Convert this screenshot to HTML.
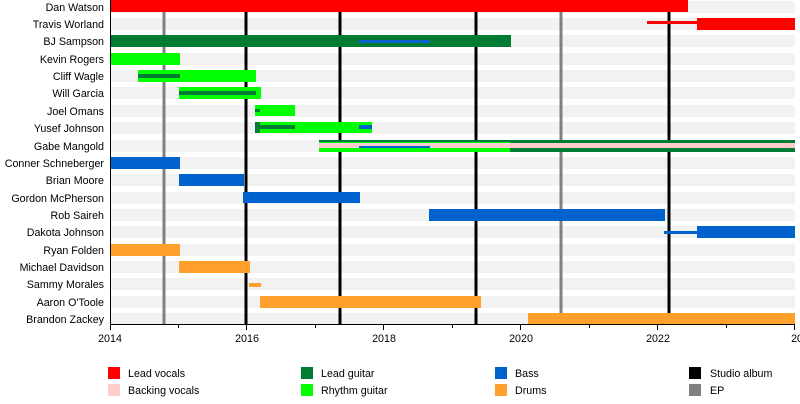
<!DOCTYPE html>
<html><head><style>body{margin:0;background:#fff}svg{display:block;font-family:"Liberation Sans",sans-serif;font-size:10.7px}</style></head><body>
<svg width="800" height="404" xmlns="http://www.w3.org/2000/svg">
<g fill="#f2f2f2">
<rect x="110" y="1" width="685" height="12"/><rect x="110" y="18" width="685" height="12"/><rect x="110" y="35" width="685" height="12"/><rect x="110" y="53" width="685" height="12"/><rect x="110" y="70" width="685" height="12"/><rect x="110" y="87" width="685" height="12"/><rect x="110" y="105" width="685" height="12"/><rect x="110" y="122" width="685" height="12"/><rect x="110" y="140" width="685" height="12"/><rect x="110" y="157" width="685" height="12"/><rect x="110" y="174" width="685" height="12"/><rect x="110" y="192" width="685" height="12"/><rect x="110" y="209" width="685" height="12"/><rect x="110" y="226" width="685" height="12"/><rect x="110" y="244" width="685" height="12"/><rect x="110" y="261" width="685" height="12"/><rect x="110" y="278" width="685" height="12"/><rect x="110" y="296" width="685" height="12"/><rect x="110" y="313" width="685" height="12"/>
</g>
<g stroke-width="3">
<line x1="164" y1="0" x2="164" y2="324" stroke="#808080"/><line x1="561" y1="0" x2="561" y2="324" stroke="#808080"/>
<line x1="246" y1="0" x2="246" y2="324" stroke="#000"/><line x1="340" y1="0" x2="340" y2="324" stroke="#000"/><line x1="476" y1="0" x2="476" y2="324" stroke="#000"/><line x1="669" y1="0" x2="669" y2="324" stroke="#000"/>
</g>
<rect x="110" y="0" width="578" height="12" fill="#ff0000"/>
<rect x="647" y="21" width="50" height="3" fill="#ff0000"/><rect x="697" y="18" width="98" height="12" fill="#ff0000"/>
<rect x="110" y="35" width="401" height="12" fill="#007b33"/><rect x="359" y="40" width="71" height="3" fill="#0062cc"/>
<rect x="110" y="53" width="70" height="12" fill="#00ff00"/>
<rect x="138" y="70" width="118" height="12" fill="#00ff00"/><rect x="138" y="74" width="42" height="4" fill="#007b33"/>
<rect x="179" y="87" width="82" height="12" fill="#00ff00"/><rect x="179" y="91" width="77" height="4" fill="#007b33"/>
<rect x="255" y="105" width="40" height="11" fill="#00ff00"/><rect x="255" y="109" width="5" height="3" fill="#007b33"/>
<rect x="255" y="122" width="117" height="11" fill="#00ff00"/><rect x="255" y="125" width="40" height="4" fill="#007b33"/><rect x="255" y="122" width="5" height="11" fill="#007b33"/><rect x="359" y="125" width="13" height="4" fill="#0062cc"/>
<rect x="319" y="140" width="191" height="12" fill="#00ff00"/><rect x="510" y="140" width="285" height="12" fill="#007b33"/><rect x="319" y="140" width="476" height="2" fill="#007b33"/><rect x="319" y="143" width="476" height="5" fill="#ffcccc"/><rect x="359" y="146" width="71" height="2" fill="#0062cc"/>
<rect x="110" y="157" width="70" height="12" fill="#0062cc"/>
<rect x="179" y="174" width="65" height="12" fill="#0062cc"/>
<rect x="243" y="192" width="117" height="11" fill="#0062cc"/>
<rect x="429" y="209" width="236" height="12" fill="#0062cc"/>
<rect x="664" y="231" width="33" height="3" fill="#0062cc"/><rect x="697" y="226" width="98" height="12" fill="#0062cc"/>
<rect x="110" y="244" width="70" height="12" fill="#ffa02c"/>
<rect x="179" y="261" width="71" height="12" fill="#ffa02c"/>
<rect x="249" y="283" width="12" height="4" fill="#ffa02c"/>
<rect x="260" y="296" width="221" height="12" fill="#ffa02c"/>
<rect x="528" y="313" width="267" height="11" fill="#ffa02c"/>
<line x1="110.5" y1="0" x2="110.5" y2="325" stroke="#000"/>
<line x1="110" y1="324.5" x2="795" y2="324.5" stroke="#000"/>
<g stroke="#000">
<line x1="110.5" y1="324" x2="110.5" y2="330"/><line x1="178.5" y1="324" x2="178.5" y2="328"/><line x1="246.5" y1="324" x2="246.5" y2="330"/><line x1="315.5" y1="324" x2="315.5" y2="328"/><line x1="383.5" y1="324" x2="383.5" y2="330"/><line x1="452.5" y1="324" x2="452.5" y2="328"/><line x1="520.5" y1="324" x2="520.5" y2="330"/><line x1="589.5" y1="324" x2="589.5" y2="328"/><line x1="657.5" y1="324" x2="657.5" y2="330"/><line x1="726.5" y1="324" x2="726.5" y2="328"/><line x1="794.5" y1="324" x2="794.5" y2="330"/>
</g>
<g text-anchor="middle" fill="#000">
<text x="110" y="342">2014</text><text x="247" y="342">2016</text><text x="384" y="342">2018</text><text x="521" y="342">2020</text><text x="658" y="342">2022</text><text x="803" y="342">2024</text>
</g>
<g text-anchor="end" fill="#000">
<text x="104" y="11">Dan Watson</text><text x="104" y="28">Travis Worland</text><text x="104" y="45">BJ Sampson</text><text x="104" y="63">Kevin Rogers</text><text x="104" y="80">Cliff Wagle</text><text x="104" y="97">Will Garcia</text><text x="104" y="115">Joel Omans</text><text x="104" y="132">Yusef Johnson</text><text x="104" y="150">Gabe Mangold</text><text x="104" y="167">Conner Schneberger</text><text x="104" y="184">Brian Moore</text><text x="104" y="202">Gordon McPherson</text><text x="104" y="219">Rob Saireh</text><text x="104" y="236">Dakota Johnson</text><text x="104" y="254">Ryan Folden</text><text x="104" y="271">Michael Davidson</text><text x="104" y="288">Sammy Morales</text><text x="104" y="306">Aaron O'Toole</text><text x="104" y="323">Brandon Zackey</text>
</g>
<rect x="108" y="367" width="12" height="12" fill="#ff0000"/><rect x="108" y="384" width="12" height="12" fill="#ffcccc"/>
<rect x="301" y="367" width="12" height="12" fill="#007b33"/><rect x="301" y="384" width="12" height="12" fill="#00ff00"/>
<rect x="495" y="367" width="12" height="12" fill="#0062cc"/><rect x="495" y="384" width="12" height="12" fill="#ffa02c"/>
<rect x="689" y="367" width="12" height="12" fill="#000"/><rect x="689" y="384" width="12" height="12" fill="#808080"/>
<g fill="#000">
<text x="128" y="377">Lead vocals</text><text x="128" y="394">Backing vocals</text>
<text x="321" y="377">Lead guitar</text><text x="321" y="394">Rhythm guitar</text>
<text x="515" y="377">Bass</text><text x="515" y="394">Drums</text>
<text x="710" y="377">Studio album</text><text x="710" y="394">EP</text>
</g>
</svg>
</body></html>
